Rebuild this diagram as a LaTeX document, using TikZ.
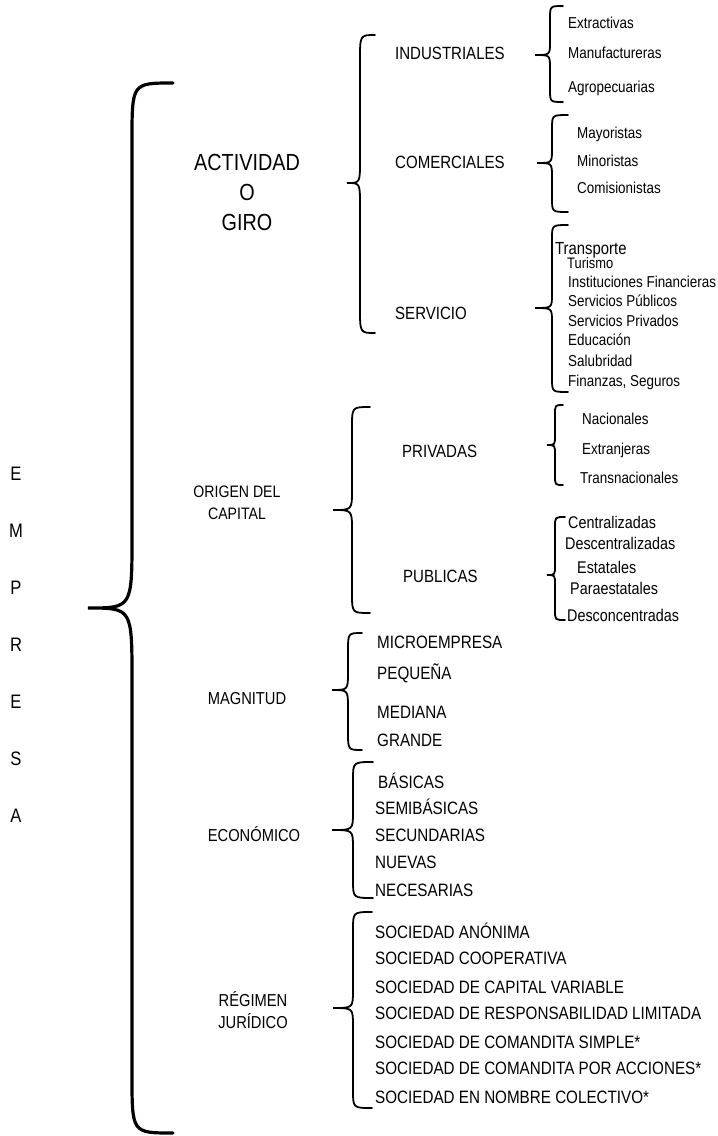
\documentclass[tikz,border=0pt]{standalone}
\usepackage{fontspec}
\setmainfont{Liberation Sans}[FakeStretch=0.85]
\newcommand\cbrace[9][br]{%
  \draw[#1] (#2,#3) .. controls (#4,#3) .. (#4,#3+#8) -- (#4,#6-#9)
    .. controls (#4,#6) .. (#5,#6) .. controls (#4,#6) .. (#4,#6+#9)
    -- (#4,#7-#8) .. controls (#4,#7) .. (#2,#7);}
\tikzset{
  fs/.style={font=\fontsize{#1}{#1}\selectfont, inner sep=0pt, text depth=0pt, text height=0.716*#1 pt},
  hd/.style={fs=23.3, align=center},
  cat/.style={fs=17.3, align=center},
  lv/.style={fs=17.7, anchor=west},
  capit/.style={fs=17.9, anchor=west},
  it/.style={fs=15.8, anchor=west},
  pubit/.style={fs=16.9, anchor=west},
  letter/.style={fs=19.5},
  br/.style={line width=1.8pt, line cap=round},
  bigbr/.style={line width=3.2pt, line cap=round},
}
\begin{document}
\begin{tikzpicture}[x=1pt,y=-1pt]
\useasboundingbox[fill=white] (0,0) rectangle (718,1136);
% EMPRESA
\node[letter] (e1) at (16,474) {E};
\node[letter] (e2) at (16,531) {M};
\node[letter] (e3) at (16,588) {P};
\node[letter] (e4) at (16,645) {R};
\node[letter] (e5) at (16,702) {E};
\node[letter] (e6) at (16,759) {S};
\node[letter] (e7) at (16,816) {A};
% big brace
\cbrace[bigbr]{173}{83}{132}{88}{608}{1133}{57}{72}
% ACTIVIDAD O GIRO
\node[hd] (act1) at (247,162) {ACTIVIDAD};
\node[hd] (act2) at (247,192) {O};
\node[hd] (act3) at (247,222) {GIRO};
\cbrace{375}{35}{360}{347}{183}{333}{25}{22}
\node[lv] (ind) at (395,53) {INDUSTRIALES};
\node[lv] (com) at (395,162) {COMERCIALES};
\node[lv] (ser) at (395,313) {SERVICIO};
% industriales
\cbrace{563}{6}{550}{535}{55}{102}{13}{13}
\node[it] (ind1) at (568,23) {Extractivas};
\node[it] (ind2) at (568,53) {Manufactureras};
\node[it] (ind3) at (568,87) {Agropecuarias};
% comerciales
\cbrace{568}{115}{552}{537}{163}{212}{14}{14}
\node[it] (com1) at (577,133) {Mayoristas};
\node[it] (com2) at (577,161) {Minoristas};
\node[it] (com3) at (577,188) {Comisionistas};
% servicio
\cbrace{568}{225}{552}{535}{308}{392}{14}{14}
\node[fs=17.5, anchor=west] (ser1) at (555,248) {Transporte};
\node[fs=15.2, anchor=west] (ser2) at (567,263) {Turismo};
\node[it] (ser3) at (568,282) {Instituciones Financieras};
\node[it] (ser4) at (568,301) {Servicios Públicos};
\node[it] (ser5) at (568,321) {Servicios Privados};
\node[it] (ser6) at (568,340) {Educación};
\node[it] (ser7) at (568,361) {Salubridad};
\node[it] (ser8) at (568,381) {Finanzas, Seguros};
% ORIGEN DEL CAPITAL
\node[fs=16.6, align=center] (ori1) at (237,492) {ORIGEN DEL};
\node[fs=16.6, align=center] (ori2) at (237,514) {CAPITAL};
\cbrace{370}{407}{352}{333}{510}{613}{20}{20}
\node[lv] (pri) at (402,451) {PRIVADAS};
\node[lv] (pub) at (403,576) {PUBLICAS};
\cbrace{563}{405}{555}{547}{445}{485}{10}{10}
\node[it] (pri1) at (582,419) {Nacionales};
\node[it] (pri2) at (582,449) {Extranjeras};
\node[it] (pri3) at (580,478) {Transnacionales};
\cbrace{565}{517}{555}{547}{575}{620}{10}{10}
\node[pubit] (pub1) at (568,522) {Centralizadas};
\node[pubit] (pub2) at (565,543) {Descentralizadas};
\node[pubit] (pub3) at (577,567) {Estatales};
\node[pubit] (pub4) at (570,588) {Paraestatales};
\node[pubit] (pub5) at (567,615) {Desconcentradas};
% MAGNITUD
\node[cat] (mag) at (247,698) {MAGNITUD};
\cbrace{362}{633}{348}{332}{690}{750}{18}{18}
\node[capit] (mag1) at (377,642) {MICROEMPRESA};
\node[capit] (mag2) at (377,673) {PEQUEÑA};
\node[capit] (mag3) at (377,712) {MEDIANA};
\node[capit] (mag4) at (377,740) {GRANDE};
% ECONOMICO
\node[cat] (eco) at (254,835) {ECONÓMICO};
\cbrace{373}{762}{353}{332}{830}{898}{18}{18}
\node[capit] (eco1) at (378,782) {BÁSICAS};
\node[capit] (eco2) at (375,808) {SEMIBÁSICAS};
\node[capit] (eco3) at (375,835) {SECUNDARIAS};
\node[capit] (eco4) at (375,862) {NUEVAS};
\node[capit] (eco5) at (375,890) {NECESARIAS};
% REGIMEN JURIDICO
\node[cat] (reg1) at (253,1000) {RÉGIMEN};
\node[cat] (reg2) at (253,1022) {JURÍDICO};
\cbrace{372}{912}{353}{333}{1008}{1108}{18}{18}
\node[capit] (reg3) at (375,932) {SOCIEDAD ANÓNIMA};
\node[capit] (reg4) at (375,958) {SOCIEDAD COOPERATIVA};
\node[capit] (reg5) at (375,987) {SOCIEDAD DE CAPITAL VARIABLE};
\node[capit] (reg6) at (375,1013) {SOCIEDAD DE RESPONSABILIDAD LIMITADA};
\node[capit] (reg7) at (375,1042) {SOCIEDAD DE COMANDITA SIMPLE*};
\node[capit] (reg8) at (375,1068) {SOCIEDAD DE COMANDITA POR ACCIONES*};
\node[capit] (reg9) at (375,1097) {SOCIEDAD EN NOMBRE COLECTIVO*};
\end{tikzpicture}
\end{document}
